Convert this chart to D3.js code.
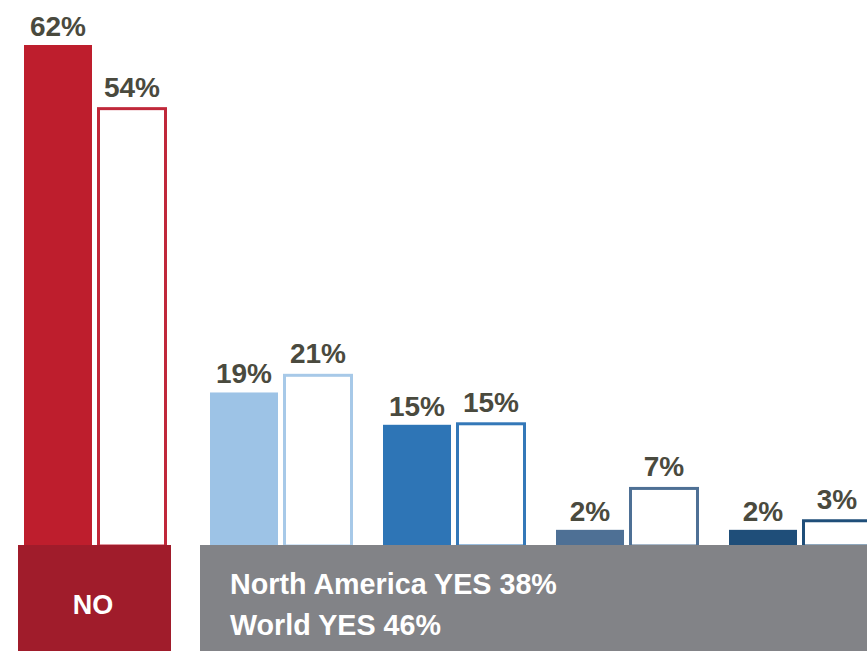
<!DOCTYPE html>
<html>
<head>
<meta charset="utf-8">
<script src="https://cdn.jsdelivr.net/npm/d3@7"></script>
<style>
  html, body { margin: 0; padding: 0; background: #fff; }
  svg { display: block; }
</style>
</head>
<body>
<svg id="chart" width="867" height="651"></svg>
<script>
// ---- data ----
const categories = ["NO", "YES 1", "YES 2", "YES 3", "YES 4"];
const northAmerica = [62, 19, 15, 2, 2];   // filled bars
const world = [54, 21, 15, 7, 3];          // outlined bars
const fillColors = ["#BE1E2D", "#9DC3E6", "#2E75B6", "#4E7095", "#1F4E79"];
const strokeColors = ["#C0283A", "#A7C9E8", "#3478B8", "#4E7095", "#1F4E79"];
const bottomLabels = ["North America YES 38%", "World YES 46%"];
const noLabel = "NO";

// ---- layout ----
const svg = d3.select("#chart");
const W = 867, H = 651;
const baseY = 546;
const barW = 68, gap = 5, sw = 3;

const y = d3.scaleLinear().domain([0, 62]).range([baseY, 45]);

const xNo = d3.scaleBand().domain([categories[0]]).range([24, 24 + 2 * barW + gap]);
const xYes = d3.scaleBand().domain(categories.slice(1)).range([210, 870]).paddingInner(0.185).paddingOuter(0);
const xPos = c => c === categories[0] ? xNo(c) : xYes(c);

const data = categories.map((c, i) => ({ c, na: northAmerica[i], w: world[i], fill: fillColors[i], stroke: strokeColors[i] }));

const labelColor = "#4A4A3E";
const font = "'Liberation Sans', Arial, sans-serif";

// filled bars
svg.selectAll("rect.na").data(data).join("rect")
  .attr("class", "na")
  .attr("x", d => xPos(d.c))
  .attr("y", d => y(d.na))
  .attr("width", barW)
  .attr("height", d => baseY - y(d.na))
  .attr("fill", d => d.fill);

// outlined bars
svg.selectAll("rect.w").data(data).join("rect")
  .attr("class", "w")
  .attr("x", d => xPos(d.c) + barW + gap + sw / 2)
  .attr("y", d => y(d.w) - 1)
  .attr("width", barW - sw + 2)
  .attr("height", d => baseY - y(d.w) + 1)
  .attr("fill", "#fff")
  .attr("stroke", d => d.stroke)
  .attr("stroke-width", sw);

// value labels
svg.selectAll("text.nal").data(data).join("text")
  .attr("class", "nal")
  .attr("x", d => xPos(d.c) + barW / 2)
  .attr("y", d => y(d.na) - 9)
  .attr("text-anchor", "middle")
  .attr("font-family", font)
  .attr("font-weight", "bold")
  .attr("font-size", 28)
  .attr("fill", labelColor)
  .text(d => d.na + "%");

svg.selectAll("text.wl").data(data).join("text")
  .attr("class", "wl")
  .attr("x", d => xPos(d.c) + barW + gap + barW / 2 + 1)
  .attr("y", d => y(d.w) - 13)
  .attr("text-anchor", "middle")
  .attr("font-family", font)
  .attr("font-weight", "bold")
  .attr("font-size", 28)
  .attr("fill", labelColor)
  .text(d => d.w + "%");

// bottom bands
svg.append("rect").attr("x", 18).attr("y", 545).attr("width", 153).attr("height", H - 545).attr("fill", "#A01C2B");
svg.append("rect").attr("x", 200).attr("y", 545).attr("width", W - 200).attr("height", H - 545).attr("fill", "#828387");

svg.append("text")
  .attr("x", 93).attr("y", 614)
  .attr("text-anchor", "middle")
  .attr("font-family", font).attr("font-weight", "bold").attr("font-size", 27)
  .attr("fill", "#fff")
  .text(noLabel);

svg.selectAll("text.bl").data(bottomLabels).join("text")
  .attr("class", "bl")
  .attr("x", 230)
  .attr("y", (d, i) => 594 + i * 41)
  .attr("font-family", font).attr("font-weight", "bold").attr("font-size", 28.7)
  .attr("fill", "#fff")
  .text(d => d);
</script>
</body>
</html>
